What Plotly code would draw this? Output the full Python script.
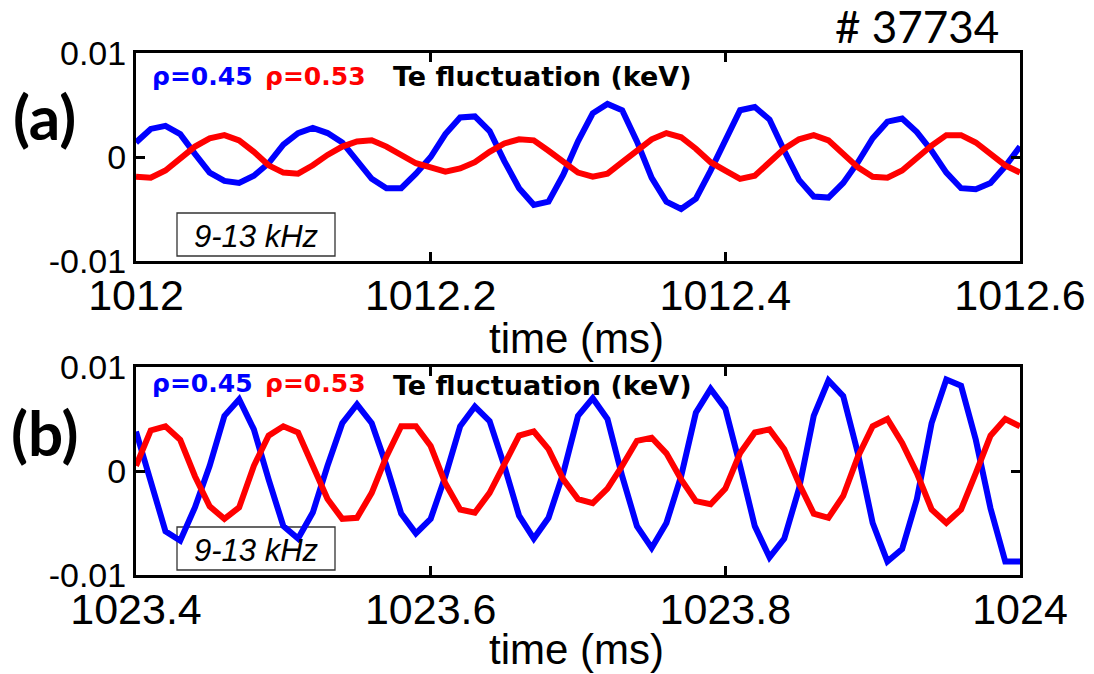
import numpy as np
import plotly.graph_objects as go

# Sampling: 0.01 ms steps over a 0.6 ms window
DT = 0.01
N_SAMPLES = 61
T0_A = 1012.0
T0_B = 1023.4

# Panel (a) Te fluctuation (keV)
a_rho045 = [0.0014, 0.0027, 0.0030, 0.0022, 0.0003, -0.0015, -0.0023, -0.0025, -0.0018, -0.0006,
            0.0012, 0.0023, 0.0028, 0.0023, 0.0014, -0.0004, -0.0021, -0.0030, -0.0030, -0.0016,
            0.0000, 0.0022, 0.0038, 0.0039, 0.0025, -0.0004, -0.0030, -0.0046, -0.0043, -0.0017,
            0.0015, 0.0042, 0.0051, 0.0045, 0.0015, -0.0020, -0.0043, -0.0050, -0.0040, -0.0013,
            0.0017, 0.0045, 0.0048, 0.0036, 0.0006, -0.0022, -0.0038, -0.0039, -0.0025, -0.0005,
            0.0018, 0.0034, 0.0037, 0.0024, 0.0006, -0.0015, -0.0030, -0.0031, -0.0025, -0.0009, 0.0010]
a_rho053 = [-0.0019, -0.0020, -0.0013, -0.0001, 0.0010, 0.0018, 0.0021, 0.0016, 0.0005, -0.0008,
            -0.0015, -0.0016, -0.0008, 0.0002, 0.0010, 0.0015, 0.0016, 0.0010, 0.0002, -0.0006,
            -0.0010, -0.0014, -0.0011, -0.0005, 0.0005, 0.0013, 0.0017, 0.0016, 0.0006, -0.0005,
            -0.0015, -0.0019, -0.0016, -0.0005, 0.0006, 0.0017, 0.0023, 0.0019, 0.0008, -0.0005,
            -0.0013, -0.0021, -0.0018, -0.0005, 0.0008, 0.0017, 0.0021, 0.0016, 0.0003, -0.0010,
            -0.0019, -0.0020, -0.0013, -0.0001, 0.0011, 0.0021, 0.0021, 0.0014, 0.0003, -0.0008, -0.0015]

# Panel (b) Te fluctuation (keV)
b_rho045 = [0.0038, -0.0012, -0.0058, -0.0067, -0.0035, 0.0005, 0.0053, 0.0069, 0.0040, -0.0008,
            -0.0053, -0.0065, -0.0040, 0.0005, 0.0046, 0.0064, 0.0046, 0.0005, -0.0041, -0.0060,
            -0.0046, -0.0005, 0.0043, 0.0062, 0.0048, 0.0005, -0.0043, -0.0065, -0.0045, -0.0002,
            0.0053, 0.0070, 0.0050, -0.0005, -0.0053, -0.0074, -0.0050, -0.0005, 0.0056, 0.0079,
            0.0060, 0.0005, -0.0053, -0.0083, -0.0065, -0.0017, 0.0053, 0.0087, 0.0072, 0.0017,
            -0.0050, -0.0087, -0.0075, -0.0027, 0.0046, 0.0088, 0.0082, 0.0030, -0.0036, -0.0087, -0.0087]
b_rho053 = [0.0005, 0.0039, 0.0043, 0.0030, -0.0005, -0.0034, -0.0046, -0.0035, 0.0005, 0.0034,
            0.0043, 0.0037, 0.0005, -0.0027, -0.0046, -0.0045, -0.0021, 0.0014, 0.0043, 0.0043,
            0.0024, -0.0012, -0.0037, -0.0040, -0.0021, 0.0005, 0.0034, 0.0038, 0.0021, -0.0008,
            -0.0027, -0.0031, -0.0017, 0.0005, 0.0029, 0.0032, 0.0017, -0.0008, -0.0029, -0.0032,
            -0.0017, 0.0017, 0.0037, 0.0040, 0.0021, -0.0012, -0.0041, -0.0045, -0.0024, 0.0014,
            0.0043, 0.0050, 0.0027, -0.0002, -0.0037, -0.0050, -0.0037, -0.0002, 0.0034, 0.0050, 0.0043]

x_ticks_a = [1012.0, 1012.2, 1012.4, 1012.6]
x_ticktext_a = ["1012", "1012.2", "1012.4", "1012.6"]
x_ticks_b = [1023.4, 1023.6, 1023.8, 1024.0]
x_ticktext_b = ["1023.4", "1023.6", "1023.8", "1024"]
y_ticks = [-0.01, 0.0, 0.01]
y_ticktext = ["-0.01", "0", "0.01"]

t_a = T0_A + DT * np.arange(N_SAMPLES)
t_b = T0_B + DT * np.arange(N_SAMPLES)

W, H = 1094, 674
BLUE = "#0000FF"
RED = "#FF0000"


def px(x):
    return x / W


def py(y):
    return 1 - y / H


fig = go.Figure()
line_w = 6
fig.add_trace(go.Scatter(x=t_a, y=a_rho045, mode="lines", line=dict(color=BLUE, width=line_w),
                         xaxis="x", yaxis="y"))
fig.add_trace(go.Scatter(x=t_a, y=a_rho053, mode="lines", line=dict(color=RED, width=line_w),
                         xaxis="x", yaxis="y"))
fig.add_trace(go.Scatter(x=t_b, y=b_rho045, mode="lines", line=dict(color=BLUE, width=line_w),
                         xaxis="x2", yaxis="y2"))
fig.add_trace(go.Scatter(x=t_b, y=b_rho053, mode="lines", line=dict(color=RED, width=line_w),
                         xaxis="x2", yaxis="y2"))

x_dom = [px(136), px(1020)]
common_x = dict(showline=True, linewidth=3, linecolor="black", mirror="ticks",
                ticks="inside", ticklen=9, tickwidth=2.5, tickcolor="black",
                showgrid=False, zeroline=False, automargin=False,
                ticklabelstandoff=-6,
                tickfont=dict(family="Liberation Sans", size=43, color="black"))
common_y = dict(showline=True, linewidth=3, linecolor="black", mirror="ticks",
                ticks="inside", ticklen=9, tickwidth=2.5, tickcolor="black",
                showgrid=False, zeroline=False, automargin=False,
                tickvals=y_ticks, ticktext=y_ticktext,
                range=[-0.01 - 1e-9, 0.01 + 1e-9],
                tickfont=dict(family="Liberation Sans", size=34, color="black"))

fig.update_layout(
    width=W, height=H,
    margin=dict(l=0, r=0, t=0, b=0, autoexpand=False),
    paper_bgcolor="white", plot_bgcolor="white",
    showlegend=False,
    xaxis=dict(domain=x_dom, anchor="y", range=[1012.0 - 1e-9, 1012.6 + 1e-9],
               tickvals=x_ticks_a, ticktext=x_ticktext_a, **common_x),
    yaxis=dict(domain=[py(261), py(53)], anchor="x", **common_y),
    xaxis2=dict(domain=x_dom, anchor="y2", range=[1023.4 - 1e-9, 1024.0 + 1e-9],
                tickvals=x_ticks_b, ticktext=x_ticktext_b, **common_x),
    yaxis2=dict(domain=[py(575), py(367)], anchor="x2", **common_y),
)

label_font = dict(family="DejaVu Sans", size=25, color="black", weight="bold")
annotations = []
for (ytxt_rho, ytxt_te, ybox0, ybox1, ylabel, ytitle, tag) in [
        (76, 76, 213, 256, 116, 338, "(a)"),
        (383, 385, 527, 570, 432, 649, "(b)")]:
    annotations.append(dict(x=px(150), y=py(ytxt_rho), xref="paper", yref="paper",
                            text="ρ=0.45", showarrow=False, xanchor="left", yanchor="middle",
                            font=dict(label_font, color=BLUE)))
    annotations.append(dict(x=px(263), y=py(ytxt_rho), xref="paper", yref="paper",
                            text="ρ=0.53", showarrow=False, xanchor="left", yanchor="middle",
                            font=dict(label_font, color=RED)))
    annotations.append(dict(x=px(391), y=py(ytxt_te), xref="paper", yref="paper",
                            text="Te fluctuation (keV)", showarrow=False, xanchor="left",
                            yanchor="middle", font=dict(label_font, size=27)))
    annotations.append(dict(x=px(256), y=py((ybox0 + ybox1) / 2 + 2), xref="paper", yref="paper",
                            text="9-13 kHz", showarrow=False, xanchor="center", yanchor="middle",
                            font=dict(family="Liberation Sans", size=31, color="black",
                                      style="italic")))
    annotations.append(dict(x=px(44), y=py(ylabel), xref="paper", yref="paper",
                            text=tag, showarrow=False, xanchor="center", yanchor="middle",
                            font=dict(family="Lato", size=62, color="black", weight="bold")))
    annotations.append(dict(x=px(576), y=py(ytitle), xref="paper", yref="paper",
                            text="time (ms)", showarrow=False, xanchor="center", yanchor="middle",
                            font=dict(family="Liberation Sans", size=42, color="black")))
    fig.add_shape(type="rect", xref="paper", yref="paper",
                  x0=px(177), x1=px(335), y0=py(ybox1), y1=py(ybox0),
                  line=dict(color="#333333", width=1.3), fillcolor="white", layer="below")

annotations.append(dict(x=px(917), y=py(26), xref="paper", yref="paper",
                        text="# 37734", showarrow=False, xanchor="center", yanchor="middle",
                        font=dict(family="Lato", size=44, color="black")))
fig.update_layout(annotations=annotations)

fig.write_html("out.html")
